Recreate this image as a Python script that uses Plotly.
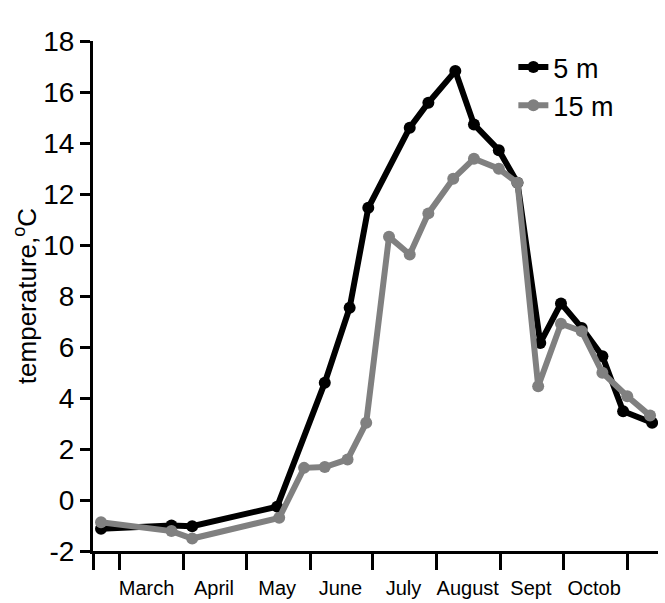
import plotly.graph_objects as go

dates_5m = ["2015-02-20", "2015-03-26", "2015-04-05", "2015-05-16", "2015-06-08",
            "2015-06-20", "2015-06-29", "2015-07-19", "2015-07-28", "2015-08-10",
            "2015-08-19", "2015-08-31", "2015-09-09", "2015-09-20", "2015-09-30",
            "2015-10-10", "2015-10-20", "2015-10-30", "2015-11-13"]
temp_5m = [-1.13, -1.0, -1.03, -0.26, 4.6, 7.54, 11.46, 14.6, 15.58, 16.82,
           14.73, 13.72, 12.44, 6.16, 7.71, 6.75, 5.64, 3.48, 3.03]

dates_15m = ["2015-02-20", "2015-03-26", "2015-04-05", "2015-05-17", "2015-05-29",
             "2015-06-08", "2015-06-19", "2015-06-28", "2015-07-09", "2015-07-19",
             "2015-07-28", "2015-08-09", "2015-08-19", "2015-08-31", "2015-09-09",
             "2015-09-19", "2015-09-30", "2015-10-10", "2015-10-20", "2015-11-01",
             "2015-11-12"]
temp_15m = [-0.87, -1.22, -1.51, -0.7, 1.26, 1.29, 1.59, 3.03, 10.32, 9.63,
            11.24, 12.6, 13.38, 12.99, 12.44, 4.46, 6.91, 6.62, 4.99, 4.07, 3.31]

month_labels = ["March", "April", "May", "June", "July", "August", "Sept", "Octob"]
month_label_pos = ["2015-03-14", "2015-04-15 12:00", "2015-05-16", "2015-06-15 12:00",
                   "2015-07-16", "2015-08-16", "2015-09-15 12:00", "2015-10-16"]
month_starts = ["2015-02-16 03:00", "2015-03-01", "2015-04-01", "2015-05-01", "2015-06-01",
                "2015-07-01", "2015-08-01", "2015-09-01", "2015-10-01", "2015-11-01"]
x_range = ["2015-02-16 03:00", "2015-11-15 20:00"]
y_ticks = [-2, 0, 2, 4, 6, 8, 10, 12, 14, 16, 18]
y_ticktext = ["-2", "0", "2", "4", "6", "8", "10", "12", "14", "16", "18"]

fig = go.Figure()
fig.add_trace(go.Scatter(x=dates_5m, y=temp_5m, name="5 m", mode="lines+markers",
                         line=dict(color="#000000", width=6),
                         marker=dict(color="#000000", size=12)))
fig.add_trace(go.Scatter(x=dates_15m, y=temp_15m, name="15 m", mode="lines+markers",
                         line=dict(color="#808080", width=6),
                         marker=dict(color="#808080", size=12)))

fig.update_layout(
    width=665, height=603,
    margin=dict(l=93, r=7, t=41, b=52, autoexpand=False),
    paper_bgcolor="white", plot_bgcolor="white",
    showlegend=True,
    legend=dict(x=0.744, y=0.996, xanchor="left", yanchor="top",
                font=dict(family="Liberation Sans, Arial, sans-serif", size=27, color="black"),
                bgcolor="rgba(0,0,0,0)", tracegroupgap=0),
    xaxis=dict(type="date", range=x_range, showgrid=False, zeroline=False, automargin=False,
               showline=True, linecolor="black", linewidth=3,
               tickmode="array", tickvals=month_label_pos, ticktext=month_labels,
               ticks="outside", ticklen=17, tickcolor="rgba(0,0,0,0)",
               tickfont=dict(family="Liberation Sans, Arial, sans-serif",
                             size=20, color="black"),
               minor=dict(tickmode="array", tickvals=month_starts, ticks="outside",
                          ticklen=16, tickwidth=3, tickcolor="black", showgrid=False)),
    yaxis=dict(range=[-2, 18], showgrid=False, zeroline=False, automargin=False,
               showline=True, linecolor="black", linewidth=3,
               tickmode="array", tickvals=y_ticks, ticktext=y_ticktext,
               ticks="outside", ticklen=10, tickwidth=3, tickcolor="black",
               tickfont=dict(family="Liberation Sans, Arial, sans-serif", size=28, color="black"),
               title=dict(text="temperature,<sup>o</sup>C", standoff=0,
                          font=dict(family="Liberation Sans, Arial, sans-serif", size=26, color="black"))),
)

fig.write_html("out.html", config={"displayModeBar": False},
               post_script="document.body.style.margin='0';document.body.style.padding='0';")
